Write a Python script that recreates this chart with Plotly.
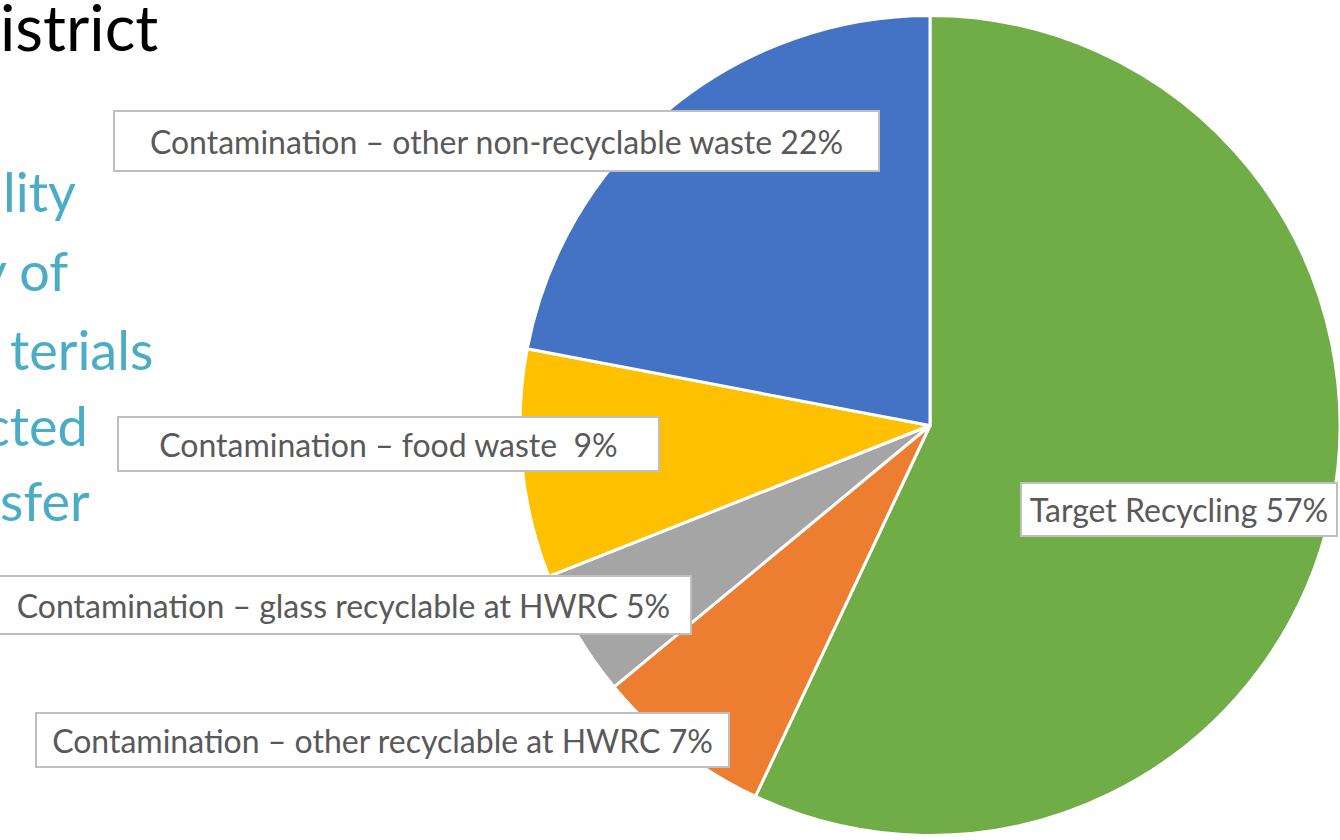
import plotly.graph_objects as go

W, H = 1340, 840

# Data
categories = [
    "Target Recycling",
    "Contamination – other recyclable at HWRC",
    "Contamination – glass recyclable at HWRC",
    "Contamination – food waste",
    "Contamination – other non-recyclable waste",
]
values = [57, 7, 5, 9, 22]
colors = ["#70AD47", "#ED7D31", "#A5A5A5", "#FFC000", "#4472C4"]
label_texts = [
    "Target Recycling 57%",
    "Contamination – other recyclable at HWRC 7%",
    "Contamination – glass recyclable at HWRC 5%",
    "Contamination – food waste  9%",
    "Contamination – other non-recyclable waste 22%",
]
# label box geometry in pixels: (center x, center y, width, height)
label_boxes = [
    (1179, 509.5, 318, 55),
    (382.5, 740, 695, 56),
    (343.5, 605, 697, 60),
    (388.5, 444, 543, 56),
    (496.5, 141, 767, 62),
]

title_fragment = "istrict"
side_lines = ["lity", "y of", "terials", "cted", "sfer"]
side_right = [78, 70, 155, 90, 92]
side_center_y = [192, 270, 349, 425, 500]

FONT = "Lato, Calibri, sans-serif"

def px(x):
    return x / W

def py(y):
    return 1 - y / H

fig = go.Figure()
fig.add_trace(go.Pie(
    labels=categories,
    values=values,
    sort=False,
    direction="clockwise",
    rotation=0,
    marker=dict(colors=colors, line=dict(color="white", width=3)),
    textinfo="none",
    hoverinfo="label+percent",
    showlegend=False,
    domain=dict(x=[px(520), 1.0], y=[py(836), py(15)]),
))

annotations = []
for txt, (cx, cy, bw, bh) in zip(label_texts, label_boxes):
    annotations.append(dict(
        text=txt, x=px(cx), y=py(cy), xref="paper", yref="paper",
        xanchor="center", yanchor="middle", showarrow=False,
        width=bw - 4, height=bh - 4, align="center", valign="middle",
        bgcolor="white", bordercolor="#BFBFBF", borderwidth=2, borderpad=0,
        font=dict(family=FONT, size=32, color="#595959"),
    ))

annotations.append(dict(
    text=title_fragment, x=px(160), y=py(27), xref="paper", yref="paper",
    xanchor="right", yanchor="middle", showarrow=False,
    font=dict(family=FONT, size=64, color="#000000"),
))
for t, rx, cy in zip(side_lines, side_right, side_center_y):
    annotations.append(dict(
        text=t, x=px(rx), y=py(cy), xref="paper", yref="paper",
        xanchor="right", yanchor="middle", showarrow=False,
        font=dict(family=FONT, size=54, color="#4BACC6"),
    ))

fig.update_layout(
    width=W, height=H,
    margin=dict(l=0, r=0, t=0, b=0),
    paper_bgcolor="white", plot_bgcolor="white",
    annotations=annotations,
)

fig.write_html(
    "out.html",
    config={"displayModeBar": False},
    post_script="document.body.style.margin='0px';document.body.style.overflow='hidden';",
)
